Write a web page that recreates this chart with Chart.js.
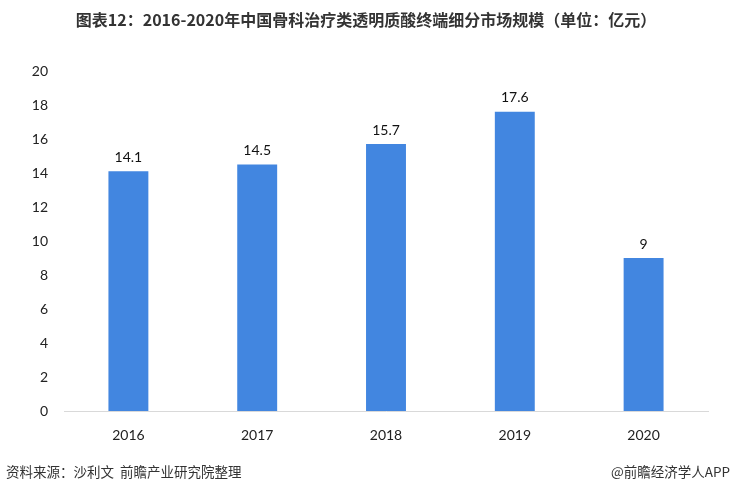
<!DOCTYPE html>
<html>
<head>
<meta charset="utf-8">
<script src="https://cdn.jsdelivr.net/npm/chart.js@4/dist/chart.umd.min.js"></script>
<style>
  html, body { margin: 0; padding: 0; background: #fff; }
  #wrap { position: relative; width: 732px; height: 494px; }
  #title { position: absolute; left: 0; right: 0; top: 7px; text-align: center;
    font: bold 16px "Noto Sans CJK SC", sans-serif; color: #333; letter-spacing: 0px; }
  .foot { position: absolute; top: 461px; font: 13.5px "Noto Sans CJK SC", sans-serif; color: #333; }
</style>
</head>
<body>
<div id="wrap">
  <canvas id="c" width="732" height="494"></canvas>
  <div id="title">图表12：2016-2020年中国骨科治疗类透明质酸终端细分市场规模（单位：亿元）</div>
  <div class="foot" style="left:6px">资料来源：沙利文&nbsp;&nbsp;前瞻产业研究院整理</div>
  <div class="foot" style="right:2px">@前瞻经济学人APP</div>
</div>
<script>
const years = ['2016', '2017', '2018', '2019', '2020'];
const marketSize = [14.1, 14.5, 15.7, 17.6, 9];

// value labels above each bar
const valueLabels = {
    id: 'valueLabels',
    afterDatasetsDraw(chart) {
        const ctx = chart.ctx;
        const meta = chart.getDatasetMeta(0);
        ctx.save();
        ctx.font = '14px Lato, "Noto Sans", sans-serif';
        ctx.fillStyle = '#111';
        ctx.textAlign = 'center';
        ctx.textBaseline = 'bottom';
        meta.data.forEach((bar, i) => {
            ctx.fillText(String(marketSize[i]), bar.x, bar.y - 7);
        });
        ctx.restore();
    }
};

new Chart(document.getElementById('c').getContext('2d'), {
    type: 'bar',
    data: {
        labels: years,
        datasets: [{
            data: marketSize,
            backgroundColor: '#4286e0',
            barPercentage: 0.31,
            categoryPercentage: 1
        }]
    },
    options: {
        responsive: false,
        animation: false,
        layout: { padding: { top: 71, left: 0, right: 24, bottom: 43 } },
        plugins: {
            legend: { display: false },
            tooltip: { enabled: false }
        },
        scales: {
            x: {
                afterFit: s => { s.height = 40; },
                grid: { display: false },
                border: { color: '#d9d9d9' },
                ticks: { padding: 8, color: '#222', font: { family: 'Lato, "Noto Sans", sans-serif', size: 14 } }
            },
            y: {
                min: 0,
                max: 20,
                afterFit: s => { s.width = 64; },
                grid: { display: false, drawTicks: false },
                border: { display: false },
                ticks: { stepSize: 2, padding: 16, color: '#222', font: { family: 'Lato, "Noto Sans", sans-serif', size: 14 } }
            }
        }
    },
    plugins: [valueLabels]
});
</script>
</body>
</html>
